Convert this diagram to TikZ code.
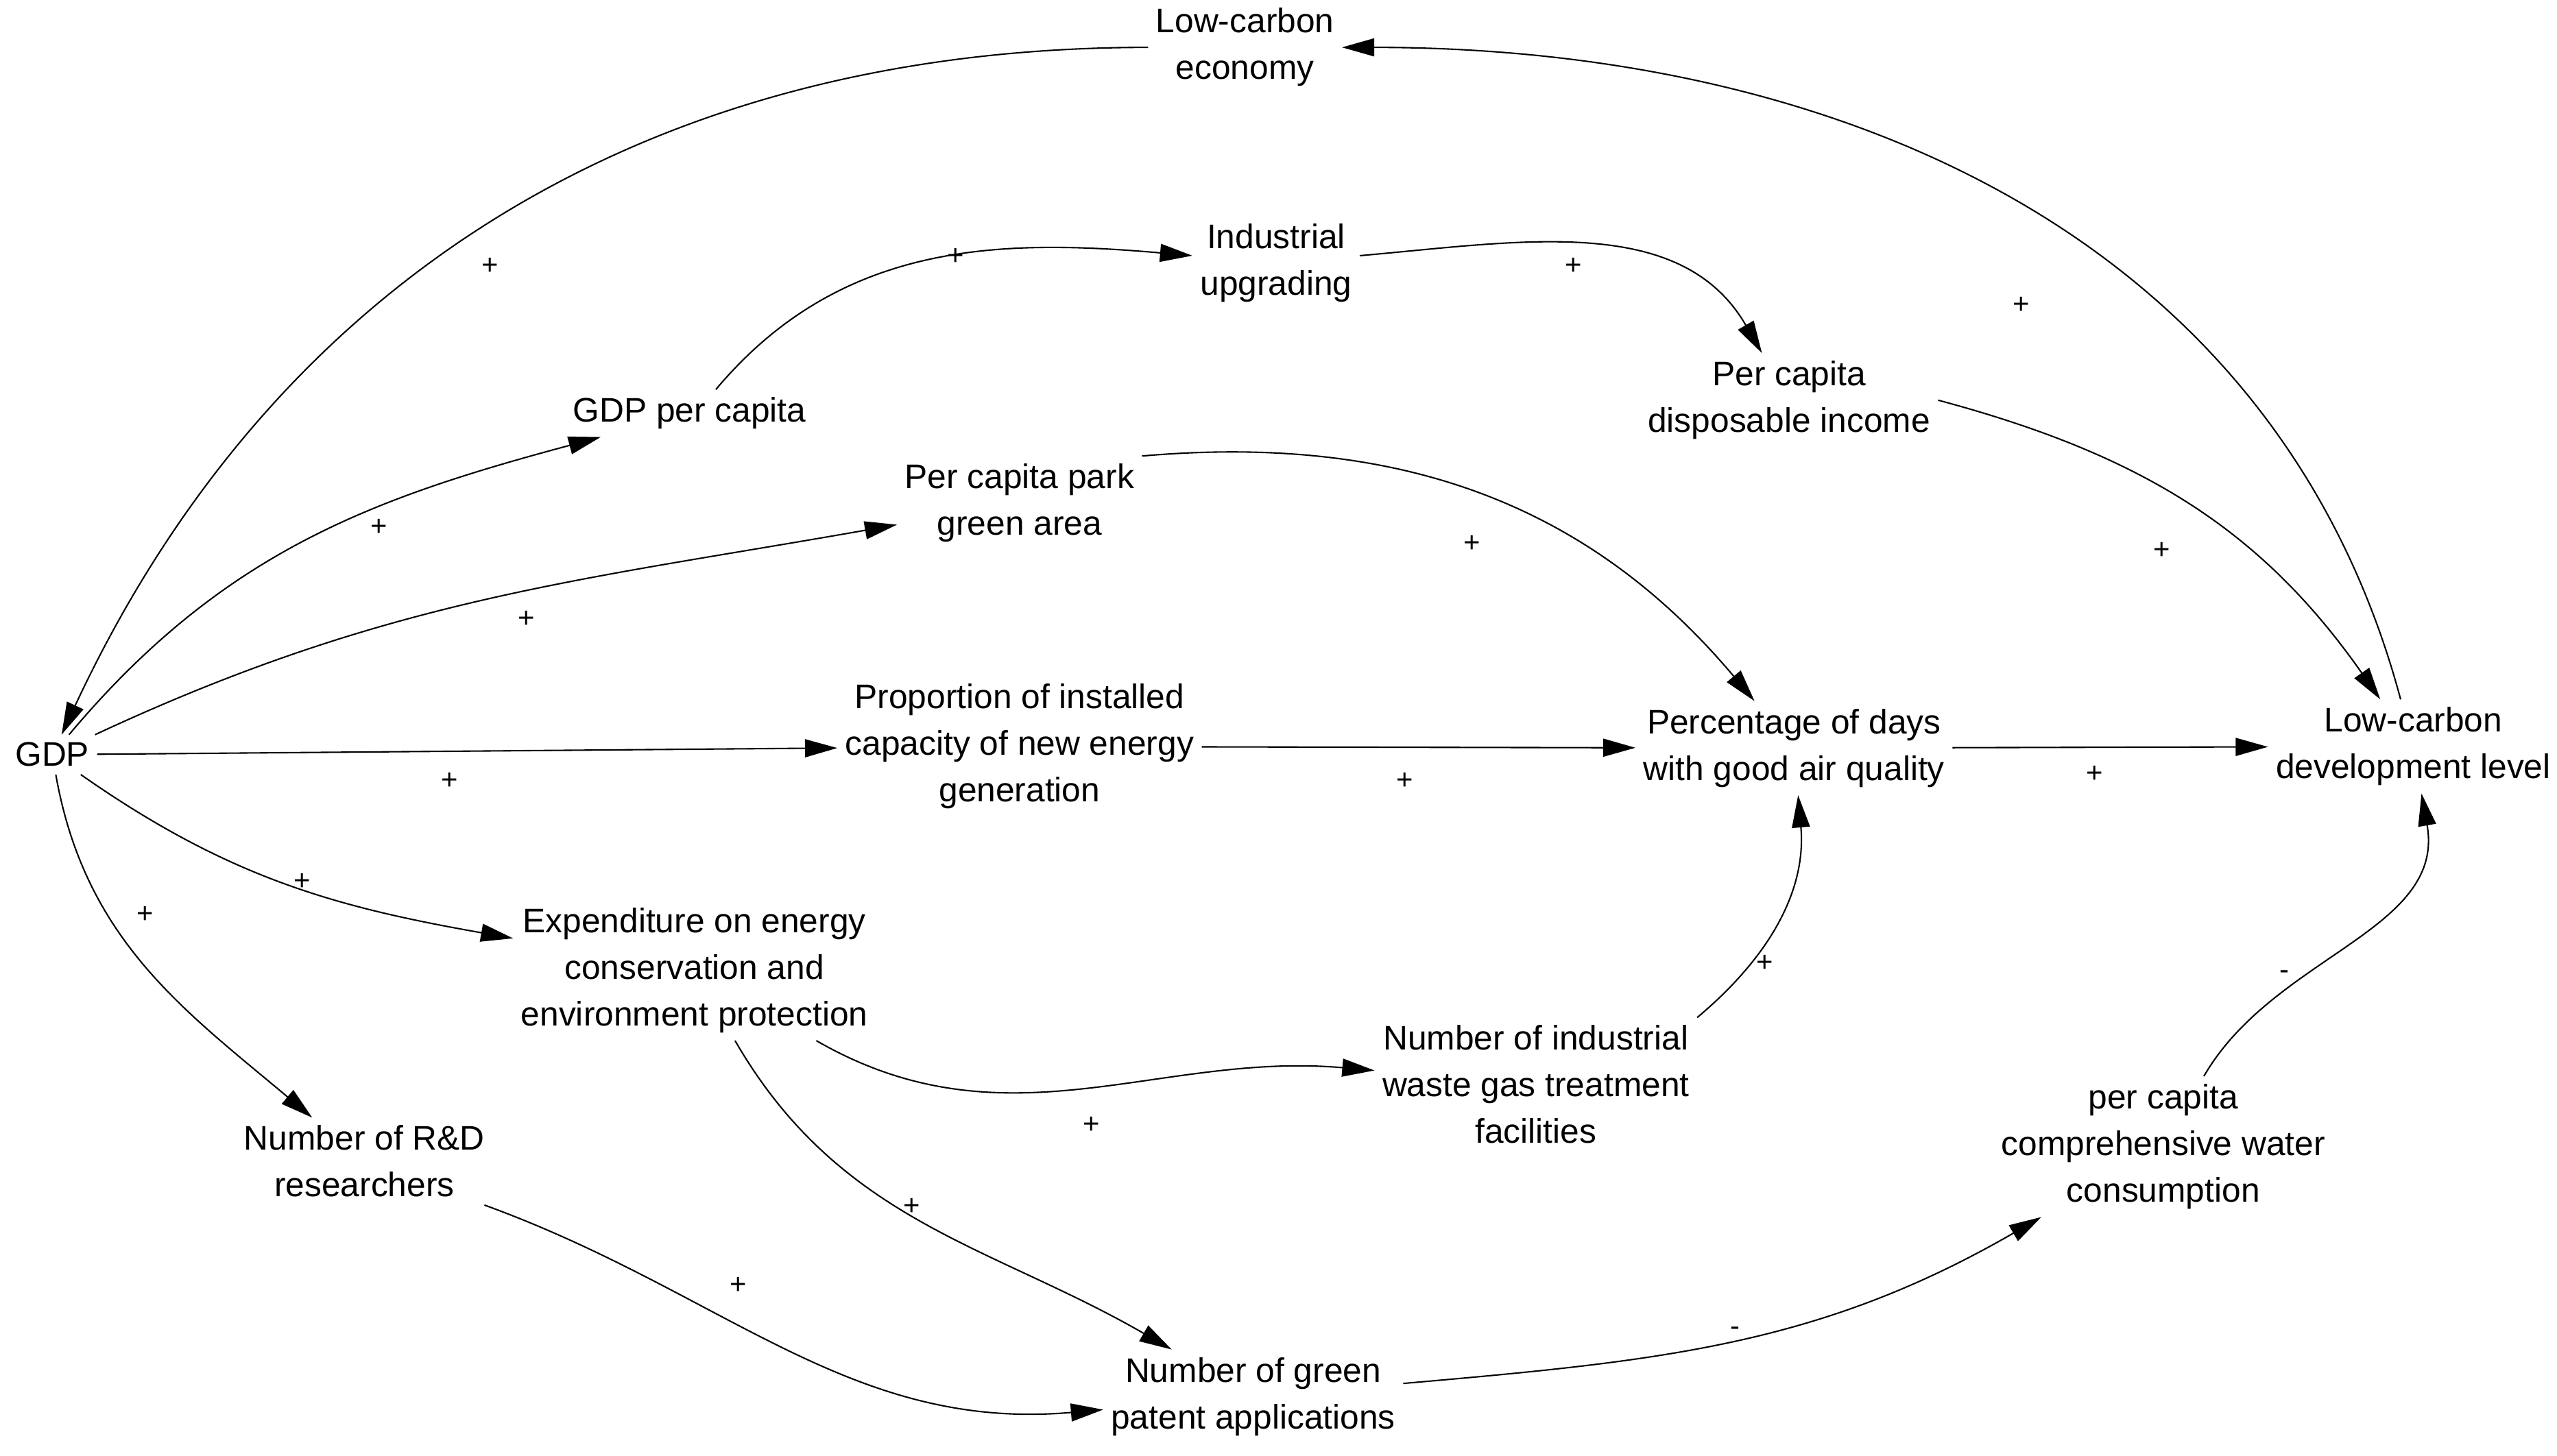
\documentclass[tikz,border=0pt]{standalone}
\usepackage{fontspec}
\setmainfont{Liberation Sans}
\usetikzlibrary{arrows.meta}
\tikzset{
  var/.style = {font=\fontsize{9.5}{13}\selectfont, align=center, inner sep=2pt},
  sign/.style = {font=\fontsize{8}{9}\selectfont, inner sep=0pt},
  link/.style = {-{Triangle[length=9pt,width=5pt]}, thin}
}
\begin{document}
\begin{tikzpicture}[x=0.016cm, y=-0.016cm]
        \useasboundingbox (0,0) rectangle (1565,891);

        % Variables
        \node[var] at (762,29) (eco) {Low-carbon\\economy};
        \node[var] at (32,462) (gdp) {GDP};
        \node[var] at (422,253) (gdppc) {GDP per capita};
        \node[var] at (781,161) (ind) {Industrial\\upgrading};
        \node[var] at (1095,245) (inc) {Per capita\\disposable income};
        \node[var] at (624,308) (park) {Per capita park\\green area};
        \node[var] at (624,457) (prop) {Proportion of installed\\capacity of new energy\\generation};
        \node[var] at (1098,458) (air) {Percentage of days\\with good air quality};
        \node[var] at (1477,457) (lcd) {Low-carbon\\development level};
        \node[var] at (425,594) (exp) {Expenditure on energy\\conservation and\\environment protection};
        \node[var] at (940,664) (waste) {Number of industrial\\waste gas treatment\\facilities};
        \node[var] at (223,711) (rd) {Number of R\&D\\researchers};
        \node[var] at (1324,702) (water) {per capita\\comprehensive water\\consumption};
        \node[var] at (767,855) (patent) {Number of green\\patent applications};

        % Links
        \draw[link] (eco) to[out=180, in=65] (gdp);
        \draw[link] (lcd) to[out=105, in=0] (eco);
        \draw[link] (gdp) to[out=50, in=195] (gdppc);
        \draw[link] (gdppc.north east) ++(-60,0) to[out=50, in=175] (ind);
        \draw[link] (ind) to[out=5, in=120] (inc);
        \draw[link] (inc.east) to[out=-15, in=125] (lcd);
        \draw[link] (gdp) to[out=25, in=190] (park);
        \draw[link] (park.north east) to[out=5, in=130] (air);
        \draw[link] (gdp) -- (prop);
        \draw[link] (prop) -- (air);
        \draw[link] (air) -- (lcd);
        \draw[link] (gdp) to[out=-35, in=170] (exp);
        \draw[link] (gdp) to[out=-80, in=140] (rd);
        \draw[link] (exp) to[out=-30, in=175] (waste);
        \draw[link] (exp) to[out=-60, in=150] (patent);
        \draw[link] (waste.north east) to[out=40, in=-85] (air);
        \draw[link] (rd) to[out=-20, in=185] (patent);
        \draw[link] (patent) to[out=5, in=210] (water);
        \draw[link] (water) to[out=60, in=-80] (lcd);

        % Polarities
        \node[sign] at (300,163) (s1) {+};
        \node[sign] at (1237,187) (s2) {+};
        \node[sign] at (232,323) (s3) {+};
        \node[sign] at (585,157) (s4) {+};
        \node[sign] at (963,163) (s5) {+};
        \node[sign] at (1323,337) (s6) {+};
        \node[sign] at (322,379) (s7) {+};
        \node[sign] at (901,333) (s8) {+};
        \node[sign] at (275,478) (s9) {+};
        \node[sign] at (860,478) (s10) {+};
        \node[sign] at (1282,474) (s11) {+};
        \node[sign] at (185,540) (s12) {+};
        \node[sign] at (89,560) (s13) {+};
        \node[sign] at (668,689) (s14) {+};
        \node[sign] at (558,739) (s15) {+};
        \node[sign] at (1080,590) (s16) {+};
        \node[sign] at (452,787) (s17) {+};
        \node[sign] at (1062,815) (s18) {-};
        \node[sign] at (1398,597) (s19) {-};
\end{tikzpicture}
\end{document}
